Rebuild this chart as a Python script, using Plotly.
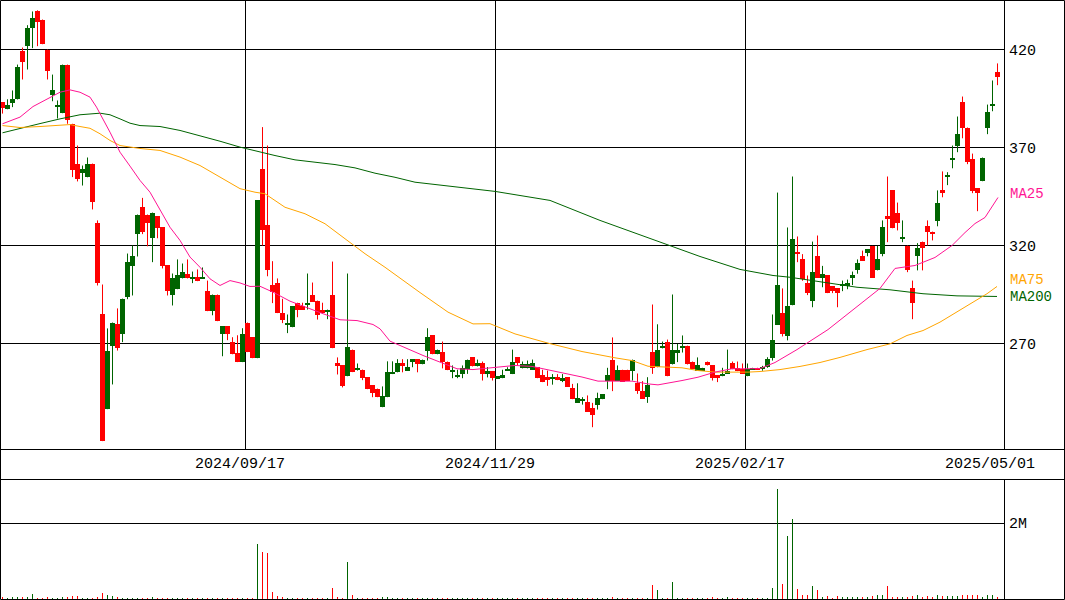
import pandas as pd
import plotly.graph_objects as go

# ---- trading calendar (TSE holidays removed) ----
holidays = pd.to_datetime([
    "2024-07-15", "2024-08-12", "2024-09-16", "2024-09-23", "2024-10-14",
    "2024-11-04", "2024-12-31", "2025-01-01", "2025-01-02", "2025-01-03",
    "2025-01-13", "2025-02-11", "2025-02-24", "2025-03-20", "2025-04-29",
])
days = pd.bdate_range("2024-07-05", "2025-05-01")
dates = [d.strftime("%Y/%m/%d") for d in days if d not in holidays]

tick_labels = ["2024/09/17", "2024/11/29", "2025/02/17", "2025/05/01"]

# ---- daily prices ----
open_ = [393.0, 389.5, 392.6, 394.5, 419.0, 421.7, 430.9, 439.9, 435.3, 419.8,
         396.7, 390.7, 387.5, 412.3, 382.1, 361.8, 357.1, 354.8, 361.8, 331.7,
         284.8, 236.5, 268.6, 279.7, 274.7, 293.6, 309.3, 325.8, 339.9, 335.8,
         323.7, 334.8, 329.2, 309.8, 294.5, 297.7, 303.2, 305.7, 303.4, 303.7,
         303.4, 297.0, 286.5, 295.0, 274.7, 278.7, 270.9, 265.0, 260.5, 280.7,
         273.1, 262.5, 358.8, 330.7, 300.1, 301.1, 285.8, 279.2, 278.3, 290.8,
         288.9, 289.7, 295.0, 291.9, 287.3, 286.3, 295.0, 259.8, 258.8, 253.3,
         266.9, 256.5, 256.7, 252.7, 248.7, 247.0, 237.5, 242.6, 254.4, 255.3,
         259.8, 256.2, 260.5, 262.0, 259.4, 266.4, 274.1, 264.5, 265.9, 260.8,
         255.7, 253.1, 254.4, 256.9, 262.9, 258.3, 259.8, 254.4, 255.9, 252.3,
         252.3, 256.2, 254.4, 262.9, 257.3, 257.3, 256.6, 257.8, 253.7, 252.7,
         252.1, 252.8, 251.3, 252.7, 247.2, 239.7, 241.1, 240.0, 237.0, 238.4,
         241.6, 251.1, 261.8, 251.1, 256.6, 256.6, 256.2, 249.9, 246.0, 242.6,
         265.9, 257.9, 267.5, 271.0, 259.3, 265.4, 267.5, 268.9, 260.8, 256.2,
         256.2, 260.8, 258.8, 253.7, 253.3, 254.5, 259.8, 257.6, 257.2, 253.3,
         256.6, 257.6, 257.1, 258.1, 262.4, 279.5, 285.8, 273.6, 289.5, 316.9,
         312.9, 301.1, 291.6, 314.9, 303.5, 304.7, 299.1, 298.1, 299.6, 299.2,
         303.3, 307.3, 314.9, 316.4, 319.8, 307.3, 315.6, 334.8, 348.1, 336.8,
         323.6, 320.0, 298.1, 314.5, 322.0, 330.2, 327.1, 332.4, 348.1, 354.8,
         363.5, 370.7, 393.0, 380.2, 363.9, 349.1, 352.8, 379.8, 391.6, 408.3]
high = [393.0, 394.6, 399.1, 412.3, 421.0, 432.4, 439.4, 440.0, 435.3, 420.0,
        407.2, 394.0, 412.3, 412.3, 382.1, 371.0, 360.8, 364.9, 361.8, 332.8,
        300.1, 277.7, 280.7, 287.9, 292.9, 315.9, 320.0, 335.8, 344.3, 335.8,
        336.8, 334.8, 329.2, 309.8, 305.7, 312.9, 310.8, 312.9, 306.7, 307.8,
        308.8, 302.1, 295.0, 295.0, 278.7, 278.7, 273.2, 274.2, 277.8, 280.7,
        273.1, 343.0, 380.4, 371.0, 312.0, 303.2, 292.8, 284.8, 288.9, 290.8,
        290.8, 305.7, 301.1, 291.9, 290.8, 287.3, 311.8, 262.9, 258.8, 305.7,
        266.9, 259.8, 256.7, 252.7, 248.7, 247.0, 248.1, 260.9, 260.9, 262.0,
        262.0, 262.0, 262.0, 262.0, 261.8, 277.8, 274.1, 266.9, 271.0, 260.8,
        258.8, 256.6, 258.8, 261.8, 262.9, 261.8, 260.8, 258.0, 255.9, 253.3,
        256.6, 257.9, 266.9, 262.9, 260.8, 261.3, 261.8, 257.8, 256.6, 256.2,
        254.4, 254.4, 254.4, 252.7, 249.4, 249.7, 242.6, 243.5, 239.7, 244.9,
        244.1, 257.6, 273.1, 258.8, 256.6, 256.6, 261.8, 254.7, 250.8, 252.8,
        289.9, 279.8, 271.0, 272.0, 295.0, 269.8, 274.1, 268.9, 260.8, 262.9,
        257.6, 260.8, 258.8, 253.7, 257.6, 266.9, 260.8, 260.8, 259.8, 259.8,
        257.6, 257.6, 258.6, 263.0, 284.8, 347.0, 298.1, 329.2, 355.2, 324.6,
        315.6, 304.7, 322.0, 325.1, 309.6, 304.7, 299.1, 298.1, 302.1, 302.6,
        306.7, 312.9, 317.4, 318.1, 319.8, 319.8, 332.8, 355.2, 348.1, 341.9,
        332.8, 320.0, 302.1, 321.2, 322.0, 332.8, 327.1, 348.1, 357.8, 357.4,
        371.0, 385.8, 396.0, 380.2, 366.9, 349.1, 364.9, 391.9, 404.2, 412.9]
low = [387.3, 389.5, 390.6, 394.5, 404.7, 409.8, 420.7, 421.7, 422.7, 404.7,
       393.6, 384.8, 387.5, 382.1, 354.9, 352.7, 350.6, 354.8, 338.4, 299.6,
       220.2, 236.5, 249.1, 266.4, 270.7, 292.6, 294.5, 314.4, 325.8, 319.6,
       311.5, 323.7, 308.3, 294.5, 289.4, 297.7, 303.2, 303.2, 300.8, 301.8,
       303.4, 286.5, 284.4, 281.4, 263.5, 271.7, 264.5, 260.5, 260.5, 265.6,
       262.5, 262.5, 320.0, 304.3, 290.6, 285.5, 280.4, 275.3, 278.3, 283.4,
       287.3, 287.3, 291.4, 282.2, 285.5, 282.4, 267.6, 254.2, 247.6, 253.3,
       255.4, 256.2, 251.3, 246.7, 242.6, 242.6, 237.5, 242.6, 254.4, 255.3,
       255.3, 256.2, 257.9, 255.3, 259.4, 261.3, 264.5, 264.5, 257.3, 256.4,
       252.3, 252.3, 252.3, 254.5, 258.3, 258.3, 251.1, 252.7, 251.1, 252.3,
       252.3, 256.2, 254.4, 258.8, 257.3, 257.3, 256.6, 252.3, 250.3, 248.4,
       249.0, 251.3, 250.3, 247.8, 241.6, 239.7, 238.8, 235.3, 227.3, 236.3,
       241.6, 246.7, 245.7, 251.1, 250.6, 251.1, 251.1, 244.3, 241.8, 239.7,
       254.5, 257.9, 267.5, 253.3, 259.3, 260.5, 265.4, 259.3, 257.2, 256.2,
       256.2, 258.8, 251.1, 250.3, 253.3, 254.5, 256.9, 255.9, 254.5, 253.3,
       256.6, 256.6, 256.1, 257.6, 261.3, 279.5, 273.6, 271.6, 289.5, 311.5,
       302.0, 294.7, 288.5, 303.5, 298.7, 295.7, 295.7, 288.5, 296.7, 297.7,
       299.8, 305.6, 312.3, 314.5, 303.5, 307.3, 314.5, 321.7, 328.8, 327.7,
       321.7, 306.4, 282.4, 307.3, 307.3, 320.0, 322.6, 329.8, 344.6, 350.8,
       359.4, 367.6, 374.7, 361.5, 346.7, 337.5, 352.8, 376.8, 388.5, 401.8]
close = [390.4, 391.9, 395.0, 411.3, 413.5, 431.2, 436.3, 433.9, 422.7, 408.9,
         399.1, 391.1, 412.3, 384.1, 358.3, 353.7, 358.8, 361.8, 342.4, 300.8,
         220.2, 266.1, 280.7, 267.6, 292.9, 311.8, 314.9, 335.8, 326.8, 331.4,
         336.8, 328.8, 309.3, 296.7, 303.2, 304.7, 306.7, 303.2, 303.9, 301.8,
         303.9, 286.5, 295.0, 281.4, 278.7, 274.7, 264.5, 260.5, 275.1, 265.6,
         262.5, 343.0, 328.0, 307.4, 296.5, 285.5, 282.2, 280.7, 288.9, 287.3,
         287.3, 290.9, 291.4, 284.4, 285.5, 287.3, 267.6, 258.3, 248.1, 268.0,
         255.4, 257.0, 252.3, 246.7, 244.6, 242.6, 243.1, 255.7, 255.7, 259.8,
         258.3, 257.8, 262.0, 259.4, 261.8, 273.2, 264.5, 266.9, 260.8, 256.4,
         256.1, 253.5, 257.6, 261.8, 258.3, 259.8, 254.2, 255.9, 252.2, 253.3,
         253.7, 256.7, 260.8, 260.3, 259.3, 259.3, 259.8, 252.3, 250.3, 251.3,
         252.6, 251.3, 252.3, 247.8, 241.6, 242.1, 241.6, 235.3, 233.3, 242.2,
         244.1, 253.7, 250.8, 256.6, 250.6, 251.1, 261.8, 245.7, 241.8, 248.9,
         257.4, 266.9, 268.8, 253.3, 266.9, 266.9, 268.9, 259.3, 257.2, 258.8,
         257.6, 258.8, 252.3, 252.3, 254.5, 255.9, 256.9, 255.9, 254.5, 257.1,
         257.6, 256.6, 258.1, 262.0, 272.0, 300.1, 274.6, 288.9, 323.1, 315.6,
         303.0, 295.7, 306.7, 303.5, 305.6, 295.7, 296.7, 295.7, 300.2, 301.1,
         304.7, 311.0, 312.3, 318.1, 303.5, 313.0, 329.2, 333.4, 328.8, 331.4,
         324.2, 307.3, 290.6, 318.8, 318.6, 326.8, 325.8, 341.9, 346.7, 356.2,
         364.9, 377.1, 379.9, 362.5, 347.7, 346.7, 364.9, 387.9, 392.2, 405.9]
volume = [30000, 25000, 30000, 44000, 61000, 53000, 132000, 26000, 26000, 53000,
          26000, 26000, 35000, 44000, 79000, 70000, 20000, 20000, 26000, 44000,
          158000, 105000, 88000, 44000, 26000, 26000, 26000, 26000, 26000, 26000,
          35000, 26000, 20000, 26000, 20000, 20000, 26000, 20000, 20000, 26000,
          20000, 26000, 20000, 20000, 26000, 20000, 26000, 20000, 20000, 26000,
          26000, 1447000, 1237000, 1210000, 184000, 79000, 44000, 26000, 26000, 26000,
          20000, 26000, 20000, 26000, 20000, 20000, 289000, 61000, 26000, 973000,
          105000, 20000, 26000, 20000, 26000, 20000, 61000, 61000, 26000, 20000,
          20000, 20000, 20000, 26000, 20000, 26000, 26000, 20000, 20000, 20000,
          15000, 15000, 15000, 20000, 15000, 15000, 15000, 15000, 15000, 15000,
          15000, 15000, 20000, 15000, 15000, 15000, 15000, 20000, 15000, 15000,
          15000, 15000, 15000, 15000, 20000, 15000, 15000, 15000, 20000, 15000,
          15000, 20000, 61000, 20000, 26000, 20000, 20000, 26000, 20000, 20000,
          377000, 237000, 26000, 26000, 447000, 26000, 26000, 20000, 20000, 20000,
          20000, 20000, 35000, 20000, 20000, 35000, 20000, 20000, 15000, 20000,
          20000, 20000, 20000, 20000, 298000, 2904000, 403000, 1666000, 2114000, 272000,
          114000, 114000, 351000, 245000, 61000, 88000, 26000, 88000, 35000, 35000,
          44000, 44000, 35000, 44000, 88000, 105000, 105000, 351000, 61000, 44000,
          61000, 61000, 79000, 96000, 61000, 79000, 61000, 114000, 88000, 79000,
          79000, 88000, 114000, 114000, 96000, 114000, 61000, 114000, 114000, 61000]

# ---- moving averages (sampled along the session index) ----
ma25_x = [0, 3.5, 6.1, 9.5, 11.5, 13.5, 15.5, 17.5, 18.8, 21.5, 23.5, 25.5, 27.5,
          29.5, 31.5, 33.5, 35.5, 37.5, 39.5, 41.5, 43.5, 45.5, 47.5, 49.5, 51.5,
          54.1, 57.5, 60.9, 64.1, 67.5, 70.9, 74.1, 75.5, 77.5, 80.9, 84.1, 87.5,
          90.9, 94.1, 97.5, 102.5, 105.9, 109.1, 112.5, 115.9, 119.1, 125.9, 129.1,
          131.1, 135.9, 139.1, 142.5, 145.9, 149.1, 151.5, 154.5, 156.5, 158.9,
          165.1, 170.5, 175.5, 178.5, 182.5, 186.5, 189.9, 192.5, 194.5, 196.5, 199.1]
ma25_y = [382.1, 385.5, 390.9, 395.7, 398.2, 399.4, 398.2, 395.7, 390.6, 377.8,
          367.6, 360.5, 353.2, 347.2, 337.9, 329.3, 322.6, 314.1, 308.9, 303.0,
          299.6, 302.1, 300.9, 299.1, 299.2, 296.2, 291.6, 288.2, 285.2, 282.1,
          281.7, 279.7, 277.5, 271.2, 267.3, 263.9, 260.5, 257.1, 256.7, 257.6,
          258.8, 258.3, 256.6, 254.6, 252.9, 250.8, 250.8, 249.4, 248.9, 251.1,
          252.8, 255.4, 257.1, 257.1, 257.2, 260.3, 263.4, 266.9, 277.1, 287.9,
          298.1, 308.3, 309.8, 313.9, 320.0, 326.6, 331.2, 334.3, 344.5]
ma75_x = [0, 3.5, 7.5, 11.5, 13.5, 15.5, 17.5, 19.5, 21.5, 23.5, 25.5, 27.5, 31.5,
          35.5, 39.5, 43.5, 47.5, 50.5, 52.5, 56.5, 60.5, 64.5, 68.5, 72.5, 76.5,
          80.5, 83.5, 89.1, 94.1, 97.5, 102.5, 109.1, 115.9, 122.5, 125.9, 129.1,
          135.9, 139.1, 142.5, 149.1, 151.5, 155.5, 159.5, 163.5, 167.5, 172.9,
          177.5, 180.9, 184.1, 187.5, 190.9, 194.1, 196.9, 198.9]
ma75_y = [381.2, 380.2, 380.7, 381.6, 381.7, 380.7, 379.8, 377.0, 373.6, 371.0,
          370.2, 369.5, 368.5, 365.1, 360.8, 354.9, 349.0, 347.2, 346.4, 339.5,
          336.2, 331.1, 323.4, 315.8, 308.9, 301.3, 296.0, 286.0, 280.0, 280.1,
          274.9, 270.2, 265.9, 262.7, 261.3, 258.4, 257.6, 256.2, 255.4, 255.4,
          255.7, 256.7, 258.3, 260.3, 262.9, 266.9, 269.8, 274.1, 276.6, 280.9,
          286.0, 291.1, 295.4, 299.1]
ma200_x = [0, 3.5, 7.5, 11.5, 15.5, 19.5, 21.5, 23.5, 25.5, 27.5, 31.5, 35.5, 39.5,
           43.5, 47.5, 51.5, 54.5, 58.5, 62.5, 66.5, 70.5, 74.5, 78.5, 82.5, 98.5,
           109.5, 119.5, 129.5, 139.5, 147.5, 154.1, 157.5, 164.1, 170.9, 177.5,
           184.1, 190.9, 198.9]
ma200_y = [377.5, 379.8, 382.2, 384.6, 386.7, 387.5, 386.7, 384.6, 382.4, 381.2,
           380.7, 378.7, 376.1, 373.2, 370.2, 367.6, 365.9, 363.7, 362.5, 361.3,
           359.6, 356.9, 354.8, 352.3, 347.6, 343.0, 332.8, 323.6, 314.4, 307.8,
           304.7, 303.8, 301.3, 298.7, 297.4, 295.4, 294.3, 294.0]

UP = "#006400"
DOWN = "#ff0000"
C25, C75, C200 = "#ff1493", "#ffa500", "#006400"
FONT = "Liberation Mono"

W, H = 1065, 600
PLOT_R = 1004          # right edge of the plotting area (px)
PRICE_BOTTOM = 449     # bottom of the price panel (px)
VOL_TOP = 479          # top of the volume panel (px)

n = len(close)
idx = list(range(n))
up = [c >= o for o, c in zip(open_, close)]

fig = go.Figure()

# wicks
for flag, col in ((True, UP), (False, DOWN)):
    wx, wy = [], []
    for i in idx:
        if up[i] == flag:
            wx += [i, i, None]
            wy += [low[i], high[i], None]
    fig.add_trace(go.Scatter(x=wx, y=wy, mode="lines", line=dict(color=col, width=1),
                             hoverinfo="skip", xaxis="x", yaxis="y"))

# bodies
for flag, col in ((True, UP), (False, DOWN)):
    sel = [i for i in idx if up[i] == flag]
    fig.add_trace(go.Bar(
        x=sel,
        y=[max(abs(close[i] - open_[i]), 0.5) for i in sel],
        base=[min(open_[i], close[i]) for i in sel],
        width=1.0, marker=dict(color=col, line=dict(width=0)),
        customdata=[dates[i] for i in sel], hovertemplate="%{customdata}<extra></extra>",
        xaxis="x", yaxis="y"))

# moving averages
for mx, my, col in ((ma200_x, ma200_y, C200), (ma75_x, ma75_y, C75), (ma25_x, ma25_y, C25)):
    fig.add_trace(go.Scatter(x=mx, y=my, mode="lines", line=dict(color=col, width=1),
                             hoverinfo="skip", xaxis="x", yaxis="y"))

# volume
fig.add_trace(go.Bar(
    x=idx, y=volume, width=0.2,
    marker=dict(color=[UP if u else DOWN for u in up], line=dict(width=0)),
    xaxis="x2", yaxis="y2"))

tick_idx = [dates.index(t) for t in tick_labels]
# vertical grid only for the inner date marks (the last one sits at the right edge)
grid_idx = tick_idx[:-1]

# axis ranges: 5 px per session, 1.96 px per yen
xr = [-0.5, (PLOT_R / 5) - 0.5]
p_top = 420 + 49.5 / 1.96
p_bot = p_top - PRICE_BOTTOM / 1.96
v_span = 2e6 * 121 / 76
v_lo = -v_span / 121

grid_common = dict(showgrid=True, gridcolor="#000000", gridwidth=1, zeroline=False,
                   showline=False, ticks="", fixedrange=True)

fig.update_layout(
    width=W, height=H, margin=dict(l=0, r=0, t=0, b=0),
    paper_bgcolor="#ffffff", plot_bgcolor="#ffffff",
    showlegend=False, barmode="overlay", bargap=0, hovermode="closest",
    xaxis=dict(domain=[0, PLOT_R / W], range=xr, tickvals=[t - 0.4 for t in grid_idx],
               showticklabels=False, anchor="y", **grid_common),
    xaxis2=dict(domain=[0, PLOT_R / W], range=xr, matches="x", showgrid=False,
                showticklabels=False, zeroline=False, anchor="y2", fixedrange=True),
    yaxis=dict(domain=[(H - PRICE_BOTTOM) / H, 1], range=[p_bot, p_top], side="right",
               tickvals=[270, 320, 370, 420], ticklabelstandoff=4,
               tickfont=dict(family=FONT, size=15, color="#000000"), anchor="x",
               **grid_common),
    yaxis2=dict(domain=[0, (H - VOL_TOP) / H], range=[v_lo, v_lo + v_span], side="right",
                tickvals=[2e6], ticktext=["2M"], ticklabelstandoff=4,
                tickfont=dict(family=FONT, size=15, color="#000000"), anchor="x2",
                **grid_common),
)

# frame lines
def hline(py, x0=0, x1=W):
    return dict(type="line", xref="paper", yref="paper", x0=x0 / W, x1=x1 / W,
                y0=1 - py / H, y1=1 - py / H, line=dict(color="#000000", width=1))

def vline(px, y0, y1):
    return dict(type="line", xref="paper", yref="paper", x0=px / W, x1=px / W,
                y0=1 - y0 / H, y1=1 - y1 / H, line=dict(color="#000000", width=1))

shapes = [
    dict(type="rect", xref="paper", yref="paper", x0=0.5 / W, x1=(W - 0.5) / W,
         y0=0.5 / H, y1=1 - 0.5 / H, line=dict(color="#000000", width=1)),
    hline(PRICE_BOTTOM + 0.5), hline(VOL_TOP + 0.5),
    vline(PLOT_R + 0.5, 0, PRICE_BOTTOM + 0.5), vline(PLOT_R + 0.5, VOL_TOP + 0.5, H),
]
fig.update_layout(shapes=shapes)

# date labels between the panels
ann = []
for t, ti in zip(tick_labels, tick_idx):
    ann.append(dict(x=ti - 1.5, xref="x", y=1 - 464 / H, yref="paper", text=t,
                    showarrow=False, xanchor="center", yanchor="middle",
                    font=dict(family=FONT, size=15, color="#000000")))

# moving-average legends at the right edge, beside each line's last value
# (MA75 nudged up and MA200 down so the two labels stay apart)
for label, my, col, shift in (("MA25", ma25_y, C25, 3), ("MA75", ma75_y, C75, 6),
                              ("MA200", ma200_y, C200, -1)):
    ann.append(dict(x=1008 / W, xref="paper", y=my[-1], yref="y", text=label,
                    showarrow=False, xanchor="left", yanchor="middle", yshift=shift,
                    font=dict(family=FONT, size=14, color=col)))
fig.update_layout(annotations=ann)

fig.write_html("out.html")
